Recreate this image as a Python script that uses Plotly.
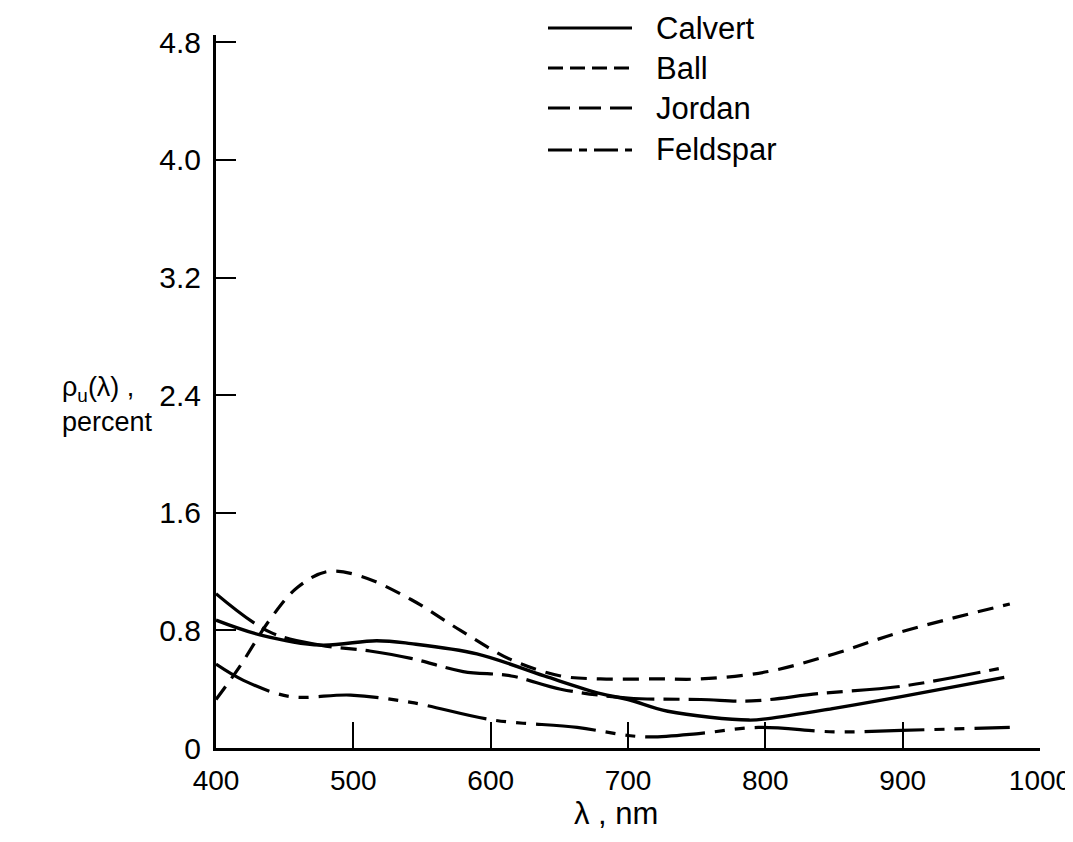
import plotly.graph_objects as go

# ---- data ----
series_names = ["Calvert", "Ball", "Jordan", "Feldspar"]

calvert_x = [400, 432, 476, 517, 542, 590, 639, 680, 700, 729, 788, 802, 850, 899, 974]
calvert_y = [0.87, 0.77, 0.70, 0.73, 0.71, 0.64, 0.49, 0.37, 0.33, 0.25, 0.19, 0.20, 0.27, 0.35, 0.48]

ball_x = [400, 417, 439, 459, 481, 505, 542, 578, 615, 651, 680, 722, 753, 802, 850, 899, 978]
ball_y = [0.33, 0.55, 0.87, 1.09, 1.20, 1.17, 1.01, 0.80, 0.60, 0.49, 0.47, 0.47, 0.47, 0.52, 0.64, 0.79, 0.98]

jordan_x = [400, 439, 476, 512, 542, 580, 615, 651, 700, 753, 790, 839, 899, 970]
jordan_y = [1.05, 0.79, 0.70, 0.66, 0.61, 0.52, 0.49, 0.40, 0.34, 0.33, 0.32, 0.37, 0.42, 0.54]

feldspar_x = [400, 420, 454, 498, 542, 602, 663, 700, 717, 753, 795, 850, 899, 978]
feldspar_y = [0.57, 0.46, 0.35, 0.36, 0.31, 0.19, 0.14, 0.085, 0.075, 0.10, 0.14, 0.11, 0.12, 0.14]

x_ticks = [400, 500, 600, 700, 800, 900, 1000]
y_ticks = [0, 0.8, 1.6, 2.4, 3.2, 4.0, 4.8]
y_tick_labels = ["0", "0.8", "1.6", "2.4", "3.2", "4.0", "4.8"]

# ---- styles ----
dashes = ["solid", "16px,10px", "48px,9px,16px,9px", "60px,10px,10px,10px,10px,10px"]
legend_dashes = ["solid", "15px,7px", "22px,9px", "24px,7px,8px,7px"]
widths = [3.4, 3.2, 3.2, 3.2]

xtick_font = dict(family="Liberation Sans, Arial, sans-serif", size=28, color="black")
ytick_font = dict(family="Liberation Sans, Arial, sans-serif", size=30, color="black")
text_font = dict(family="Liberation Sans, Arial, sans-serif", size=31, color="black")
ytitle_font = dict(family="Liberation Sans, Arial, sans-serif", size=27, color="black")

fig = go.Figure()
all_x = [calvert_x, ball_x, jordan_x, feldspar_x]
all_y = [calvert_y, ball_y, jordan_y, feldspar_y]
for name, xs, ys, d, w in zip(series_names, all_x, all_y, dashes, widths):
    fig.add_trace(go.Scatter(x=xs, y=ys, mode="lines", name=name,
                             line=dict(color="black", width=w, dash=d, shape="spline", smoothing=1.0),
                             showlegend=False))

OFF = 8  # page body margin
W, H = 1065, 826
L = 216 - OFF
T = 35 - OFF
R = W - (1040 - OFF)
B = H - (748 - OFF)
pw, ph = W - L - R, H - T - B

def px2paper_x(px):  # px in page coordinates
    return (px - OFF - L) / pw

def px2paper_y(py):
    return (H - B - (py - OFF)) / ph

# custom legend (long line samples like in the original)
leg_y = [28, 68, 108, 150]
shapes = []
annotations = []
for name, d, py in zip(series_names, legend_dashes, leg_y):
    shapes.append(dict(type="line", xref="paper", yref="paper",
                       x0=px2paper_x(548), x1=px2paper_x(632),
                       y0=px2paper_y(py), y1=px2paper_y(py),
                       line=dict(color="black", width=3, dash=d)))
    annotations.append(dict(xref="paper", yref="paper", x=px2paper_x(654), y=px2paper_y(py),
                            text=name, showarrow=False, xanchor="left", yanchor="middle",
                            font=text_font))

annotations.append(dict(xref="paper", yref="paper", x=px2paper_x(60), y=px2paper_y(404),
                        text="ρ<sub>u</sub>(λ) ,<br>percent", showarrow=False,
                        xanchor="left", yanchor="middle", align="left", font=ytitle_font))

annotations.append(dict(xref="paper", yref="paper", x=px2paper_x(616), y=px2paper_y(813),
                        text="λ , nm", showarrow=False,
                        xanchor="center", yanchor="middle", font=text_font))

fig.update_layout(
    width=W, height=H,
    margin=dict(l=L, r=R, t=T, b=B, autoexpand=False),
    paper_bgcolor="white", plot_bgcolor="white",
    shapes=shapes, annotations=annotations,
    xaxis=dict(range=[400, 1000], tickvals=x_ticks, ticks="inside", ticklen=26, tickwidth=2,
               tickcolor="black", showline=True, linecolor="black", linewidth=3,
               showgrid=False, zeroline=False, tickfont=xtick_font, ticklabelstandoff=5,
               ticklabeloverflow="allow", automargin=False),
    yaxis=dict(range=[0, 4.85], tickvals=y_ticks, ticktext=y_tick_labels, ticks="inside",
               ticklen=20, tickwidth=2, tickcolor="black", showline=True, linecolor="black",
               linewidth=3, showgrid=False, zeroline=False, tickfont=ytick_font,
               ticklabelstandoff=6, automargin=False),
)

fig.write_html("out.html")
